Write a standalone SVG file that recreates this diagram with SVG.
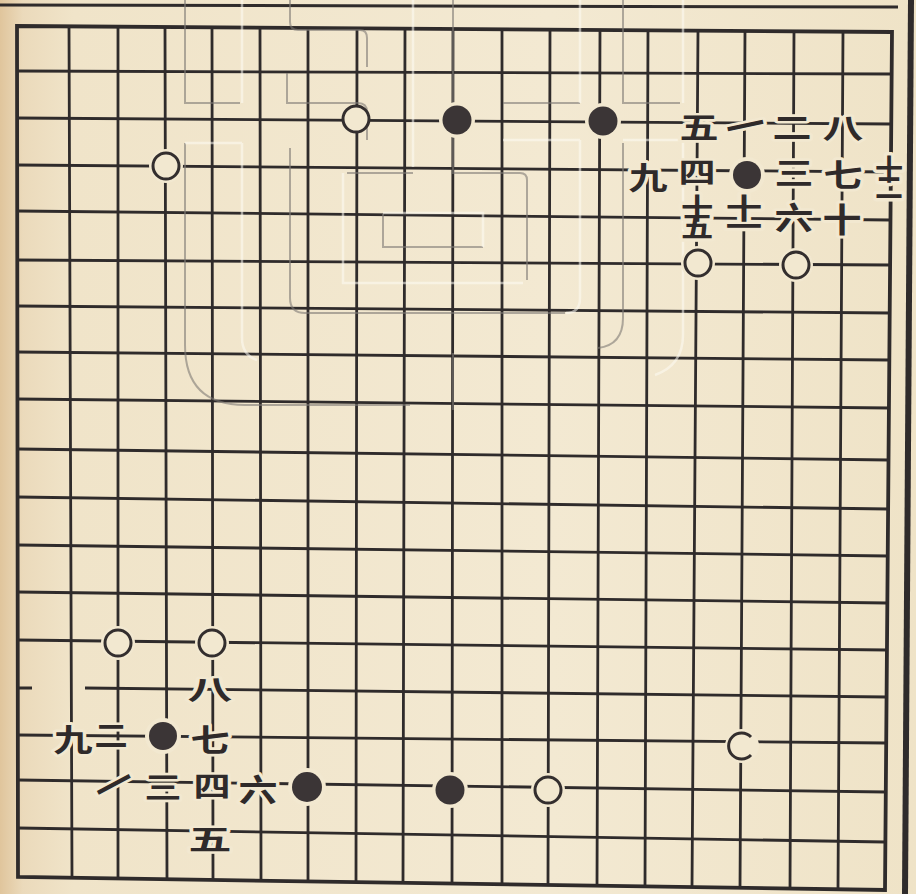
<svg xmlns="http://www.w3.org/2000/svg" width="916" height="894" viewBox="0 0 916 894">
<defs>
<linearGradient id="paper" x1="0" y1="0" x2="1" y2="0">
<stop offset="0" stop-color="#e0c59c"/>
<stop offset="0.025" stop-color="#ebdabb"/>
<stop offset="0.08" stop-color="#f0e4c9"/>
<stop offset="0.6" stop-color="#f3e9d2"/>
<stop offset="1" stop-color="#efe3c7"/>
</linearGradient>
<style>
.g{stroke:#2f2b2b;stroke-width:2.8;fill:none}
.e{stroke:#2f2b2b;stroke-width:3.8;fill:none;stroke-linejoin:miter}
.b{fill:#3b3536}
.w{fill:#f2e8d0;stroke:#332e2e;stroke-width:3}
.h{fill:#f2e8d0}
.n{font-family:"Noto Sans CJK SC","Noto Sans CJK JP",sans-serif;font-size:39px;font-weight:700;fill:#2f2a2a;text-anchor:middle;dominant-baseline:central;stroke:#f2e8d0;stroke-width:7;paint-order:stroke;stroke-linejoin:round}
.v{font-size:28px;writing-mode:vertical-rl;letter-spacing:-10px}
.wmg{stroke:#7f7a74;stroke-width:2;fill:none;opacity:0.6}
.wmw{stroke:#fdfbf4;stroke-width:2.5;fill:none;opacity:0.55}
</style>
</defs>
<rect x="0" y="0" width="916" height="894" fill="url(#paper)"/>

<g id="page-border">
<path class="e" d="M0,5 L898,7" style="stroke-width:3"/>
<path class="e" d="M911,0 L905,894" style="stroke-width:6"/>
</g>

<g id="board">
<path class="g" d="M17,71 L892,74 M17,118 L891,124 M17,165 L891,172 M17,211 L890,220 M17,260 L890,265 M17,306 L890,313 M17,352 L889,360 M17,399 L889,408 M18,449 L889,460 M18,497 L888,509 M18,545 L888,556 M18,592 L887,603 M18,640 L887,650 M18,688 L32,688 M85,688 L887,697 M18,735 L886,743 M18,780 L886,792 M18,828 L885,842"/>
<path class="g" d="M69,26 L72,878 M118,27 L118,879 M165,27 L167,879 M212,27 L213,880 M260,28 L261,881 M308,28 L308,881 M357,28 L356,882 M405,29 L403,883 M453,29 L452,884 M502,29 L502,884 M550,30 L548,885 M600,30 L597,886 M648,30 L645,886 M698,31 L692,887 M745,31 L740,888 M794,31 L790,889 M843,32 L838,889"/>
<path class="e" d="M17,26 L892,32 L885,890 L18,877 Z"/>
</g>

<g id="watermark">
<path class="wmg" d="M185,0 V103 H240 M290,0 V22 Q290,30 298,30 H360 Q367,30 367,38 V67 M287,73 V103 H358 Q367,103 367,112 V140 M453,0 V173 H520 Q527,173 527,180 V280 M503,103 H580 M623,0 V103 H680 M185,143 V345 Q185,405 245,405 H410 M290,148 V298 Q290,313 305,313 H565 M623,143 V318 Q623,345 598,348 M347,173 H413 M383,213 V247 H483 M453,353 V410"/>
<path class="wmw" d="M242,0 V103 M413,0 V167 M580,0 V103 M683,0 V103 M383,213 H483 V247 M343,173 V283 H523 M242,143 V338 Q242,355 257,360 M580,140 V298 Q580,313 566,313 M683,140 V335 Q683,365 655,375 M185,143 H242 M503,140 H580 M623,140 H683"/>
</g>

<g id="stones">
<g id="w-7-2"><circle class="w" cx="356" cy="119" r="13"/></g>
<g id="b-9-2"><circle class="h" cx="457" cy="120" r="18"/><circle class="b" cx="457" cy="120" r="14.5"/></g>
<g id="b-12-2"><circle class="h" cx="603" cy="121" r="18"/><circle class="b" cx="603" cy="121" r="14.5"/></g>
<g id="w-3-3"><circle class="h" cx="166" cy="166" r="17"/><circle class="w" cx="166" cy="166" r="13"/></g>
<g id="b-15-3"><circle class="h" cx="747" cy="175" r="18"/><circle class="b" cx="747" cy="175" r="14"/></g>
<g id="w-14-5"><circle class="h" cx="698" cy="263" r="17"/><circle class="w" cx="698" cy="263" r="13"/></g>
<g id="w-16-5"><circle class="h" cx="796" cy="265" r="17"/><circle class="w" cx="796" cy="265" r="13"/></g>
<g id="w-2-13"><circle class="h" cx="118" cy="643" r="17"/><circle class="w" cx="118" cy="643" r="13"/></g>
<g id="w-4-13"><circle class="h" cx="212" cy="643" r="17"/><circle class="w" cx="212" cy="643" r="13"/></g>
<g id="b-3-15"><circle class="h" cx="163" cy="736" r="18"/><circle class="b" cx="163" cy="736" r="14"/></g>
<g id="b-6-16"><circle class="h" cx="307" cy="787" r="19"/><circle class="b" cx="307" cy="787" r="15"/></g>
<g id="b-9-16"><circle class="h" cx="450" cy="790" r="18"/><circle class="b" cx="450" cy="790" r="14.5"/></g>
<g id="w-11-16"><circle class="h" cx="548" cy="790" r="17"/><circle class="w" cx="548" cy="790" r="13"/></g>
<g id="w-15-15"><circle class="h" cx="742" cy="746" r="17"/><path class="w" d="M751,737 A13,13 0 1 0 751,755" style="fill:none"/></g>
</g>

<g id="labels-top-right">
<g id="tr-5" transform="translate(699,125) scale(1,0.75)"><text class="n">五</text></g>
<g id="tr-1" transform="translate(745,124) rotate(-12) scale(1,0.8)"><text class="n">一</text></g>
<g id="tr-2" transform="translate(792,125) scale(1,0.75)"><text class="n">二</text></g>
<g id="tr-8" transform="translate(843,127) scale(1.05,0.72)"><text class="n">八</text></g>
<g id="tr-9" transform="translate(648,175) scale(1,0.8)"><text class="n">九</text></g>
<g id="tr-4" transform="translate(697,171) scale(0.95,0.72)"><text class="n">四</text></g>
<g id="tr-3" transform="translate(794,170) scale(1,0.8)"><text class="n">三</text></g>
<g id="tr-7" transform="translate(843,172) scale(1,0.8)"><text class="n">七</text></g>
<g id="tr-12" transform="translate(889,173)"><text class="n v">十二</text></g>
<g id="tr-15" transform="translate(697,212) scale(1.15,1)"><text class="n v">十五</text></g>
<g id="tr-11" transform="translate(744,212) scale(1.3,1)"><text class="n v">十一</text></g>
<g id="tr-6" transform="translate(794,215) scale(1,0.8)"><text class="n">六</text></g>
<g id="tr-10" transform="translate(842,217) scale(1,0.85)"><text class="n">十</text></g>
</g>

<g id="labels-bottom-left">
<g id="bl-8" transform="translate(210,688) scale(1.15,0.7)"><text class="n">八</text></g>
<g id="bl-9" transform="translate(73,737) scale(1,0.8)"><text class="n">九</text></g>
<g id="bl-2" transform="translate(111,733) scale(0.85,0.75)"><text class="n">二</text></g>
<g id="bl-7" transform="translate(210,737) scale(1,0.8)"><text class="n">七</text></g>
<g id="bl-1" transform="translate(113,783) rotate(-28) scale(1,0.8)"><text class="n">一</text></g>
<g id="bl-3" transform="translate(163,785) scale(0.95,0.75)"><text class="n">三</text></g>
<g id="bl-4" transform="translate(212,785) scale(0.95,0.72)"><text class="n">四</text></g>
<g id="bl-6" transform="translate(258,787) scale(1,0.8)"><text class="n">六</text></g>
<g id="bl-5" transform="translate(210,838) scale(1.1,0.72)"><text class="n">五</text></g>
</g>
</svg>
